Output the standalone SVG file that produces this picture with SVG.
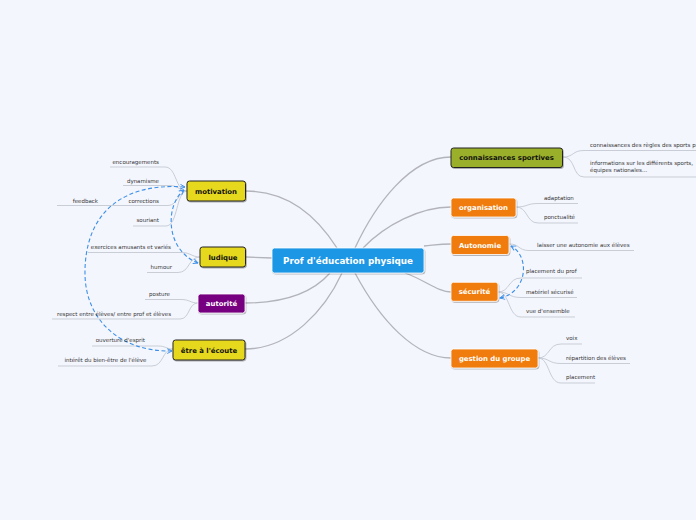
<svg xmlns="http://www.w3.org/2000/svg" width="696" height="520" viewBox="0 0 696 520">
<defs>
<style>
.leaf{font-family:"DejaVu Sans",Verdana,sans-serif;font-size:5.5px;fill:#333}
.ul{stroke:#c9cdd6;stroke-width:1;fill:none}
.br{stroke:#b3b3bb;stroke-width:1.3;fill:none}
.dash{stroke:#3d8fe8;stroke-width:1.1;fill:none;stroke-dasharray:4,2.5;marker-start:url(#ah);marker-end:url(#ah)}
.nt{font-family:"DejaVu Sans",Verdana,sans-serif;font-weight:bold;font-size:6.9px;text-anchor:middle}
.dark{stroke:#222;stroke-width:1}
.light{stroke:#fff;stroke-width:0.8}
</style>
<marker id="ah" viewBox="0 0 10 10" refX="9" refY="5" markerWidth="6" markerHeight="6" orient="auto-start-reverse" markerUnits="userSpaceOnUse">
<path d="M1,1 L9,5 L1,9" fill="none" stroke="#3d8fe8" stroke-width="1.6"/>
</marker>
<filter id="sh" x="-10%" y="-20%" width="130%" height="160%">
<feDropShadow dx="0.8" dy="1" stdDeviation="0.6" flood-color="#000" flood-opacity="0.3"/>
</filter>
</defs>
<rect width="696" height="520" fill="#f3f6fd"/>

<g id="connectors">
<path class="br" d="M246,191 C290,191 318,218 337,248"/>
<path class="br" d="M246,257 L272,258"/>
<path class="br" d="M245,303 C290,303 315,290 330,273"/>
<path class="br" d="M245,349 C290,349 325,310 342,273"/>
<path class="br" d="M355,248 C375,205 410,157 451,157"/>
<path class="br" d="M363,248 C385,225 420,207 451,207"/>
<path class="br" d="M424,246 C435,245 440,244 451,244"/>
<path class="br" d="M405,273 C425,280 438,292 451,292"/>
<path class="br" d="M355,273 C380,320 415,358 451,358"/>
<path class="ul" d="M110,167 H165 C177,167 175,191 187,191"/>
<path class="ul" d="M123,185.5 H170 C178,185.5 180,191 187,191"/>
<path class="ul" d="M57,205.5 H168 C178,205.5 178,191 187,191"/>
<path class="ul" d="M133,226 H166 C178,226 176,191 187,191"/>
<path class="ul" d="M88,252.5 H182 C190,252.5 192,257 200,257"/>
<path class="ul" d="M147,272.5 H178 C190,272.5 188,257 200,257"/>
<path class="ul" d="M145,299.5 H181 C190,299.5 190,303 198,303"/>
<path class="ul" d="M52,319 H180 C190,319 188,303 198,303"/>
<path class="ul" d="M92,346 H158 C166,346 166,349 173,349"/>
<path class="ul" d="M58,366 H152 C164,366 162,349 173,349"/>
<path class="ul" d="M563,157 C574,157 572,150.5 584,150.5 H696"/>
<path class="ul" d="M563,157 C576,157 572,177 584,177 H696"/>
<path class="ul" d="M516,207 C528,207 526,203.5 538,203.5 H578"/>
<path class="ul" d="M516,207 C528,207 526,223 538,223 H578"/>
<path class="ul" d="M509,244 C520,244 518,250.5 529,250.5 H634"/>
<path class="ul" d="M498,292 C510,292 508,278 521,278 H582"/>
<path class="ul" d="M498,292 C510,292 508,297.5 521,297.5 H577"/>
<path class="ul" d="M498,292 C510,292 508,317 521,317 H575"/>
<path class="ul" d="M538,358 C550,358 548,344 561,344 H582"/>
<path class="ul" d="M538,358 C550,358 548,363.5 561,363.5 H630"/>
<path class="ul" d="M538,358 C550,358 548,383 561,383 H595"/>
<path class="dash" d="M172,351 C120,352 86,320 85,275 C84,220 115,182 185,187"/>
<path class="dash" d="M198,263 C165,250 165,205 184,190"/>
<path class="dash" d="M500,298 C528,292 530,256 511,246"/>
</g>

<g id="leaves">
<text class="leaf" x="159" y="164.3" text-anchor="end">encouragements</text>
<text class="leaf" x="159" y="183.3" text-anchor="end">dynamisme</text>
<text class="leaf" x="159" y="203.3" text-anchor="end">corrections</text>
<text class="leaf" x="98" y="203.3" text-anchor="end">feedback</text>
<text class="leaf" x="159" y="222.3" text-anchor="end">souriant</text>
<text class="leaf" x="171" y="249" text-anchor="end">exercices amusants et variés</text>
<text class="leaf" x="172" y="268.5" text-anchor="end">humour</text>
<text class="leaf" x="170" y="296" text-anchor="end">posture</text>
<text class="leaf" x="171" y="315.5" text-anchor="end">respect entre élèves/ entre prof et élèves</text>
<text class="leaf" x="145" y="342" text-anchor="end">ouverture d'esprit</text>
<text class="leaf" x="146.5" y="362" text-anchor="end">intérêt du bien-être de l'élève</text>
<text class="leaf" x="590" y="147">connaissances des règles des sports p</text>
<text class="leaf" x="590" y="165">informations sur les différents sports,</text>
<text class="leaf" x="590" y="172">équipes nationales...</text>
<text class="leaf" x="544" y="199.5">adaptation</text>
<text class="leaf" x="544" y="218.5">ponctualité</text>
<text class="leaf" x="537" y="246.5">laisser une autonomie aux élèves</text>
<text class="leaf" x="526" y="273">placement du prof</text>
<text class="leaf" x="526" y="293.5">matériel sécurisé</text>
<text class="leaf" x="526" y="312.5">vue d'ensemble</text>
<text class="leaf" x="566" y="339.5">voix</text>
<text class="leaf" x="566" y="359.5">répartition des élèves</text>
<text class="leaf" x="566" y="379">placement</text>
</g>

<g id="center">
<rect x="272" y="248" width="152" height="25" rx="2.5" fill="#1b97e6" class="light" filter="url(#sh)"/>
<text x="348" y="263.5" font-family="DejaVu Sans, Verdana, sans-serif" font-weight="bold" font-size="8.8" fill="#fff" text-anchor="middle">Prof d'éducation physique</text>
</g>
<g id="motivation">
<rect x="187" y="181" width="58.5" height="20" rx="2.5" fill="#e6d81f" class="dark" filter="url(#sh)"/>
<text class="nt" x="216" y="193.5" fill="#111">motivation</text>
</g>
<g id="ludique">
<rect x="200" y="247" width="45.5" height="20" rx="2.5" fill="#e6d81f" class="dark" filter="url(#sh)"/>
<text class="nt" x="223" y="259.5" fill="#111">ludique</text>
</g>
<g id="autorite">
<rect x="198" y="294" width="47" height="19" rx="2.5" fill="#76007f" class="light" filter="url(#sh)"/>
<text class="nt" x="221.5" y="306" fill="#fff">autorité</text>
</g>
<g id="ecoute">
<rect x="173" y="340" width="72" height="20" rx="2.5" fill="#e6d81f" class="dark" filter="url(#sh)"/>
<text class="nt" x="209" y="352.5" fill="#111">être à l'écoute</text>
</g>
<g id="connaissances">
<rect x="451" y="148" width="111.5" height="19.5" rx="2.5" fill="#9bb029" class="dark" filter="url(#sh)"/>
<text class="nt" x="506.5" y="160.3" fill="#111">connaissances sportives</text>
</g>
<g id="organisation">
<rect x="451" y="198" width="65" height="19" rx="2.5" fill="#f07c0e" class="light" filter="url(#sh)"/>
<text class="nt" x="483.5" y="210" fill="#fff">organisation</text>
</g>
<g id="autonomie">
<rect x="451" y="235.5" width="58" height="19" rx="2.5" fill="#f07c0e" class="light" filter="url(#sh)"/>
<text class="nt" x="480" y="247.5" fill="#fff">Autonomie</text>
</g>
<g id="securite">
<rect x="451" y="282.3" width="47" height="19" rx="2.5" fill="#f07c0e" class="light" filter="url(#sh)"/>
<text class="nt" x="474.5" y="294.3" fill="#fff">sécurité</text>
</g>
<g id="gestion">
<rect x="451" y="349" width="87" height="19" rx="2.5" fill="#f07c0e" class="light" filter="url(#sh)"/>
<text class="nt" x="494.5" y="361" fill="#fff">gestion du groupe</text>
</g>
</svg>
